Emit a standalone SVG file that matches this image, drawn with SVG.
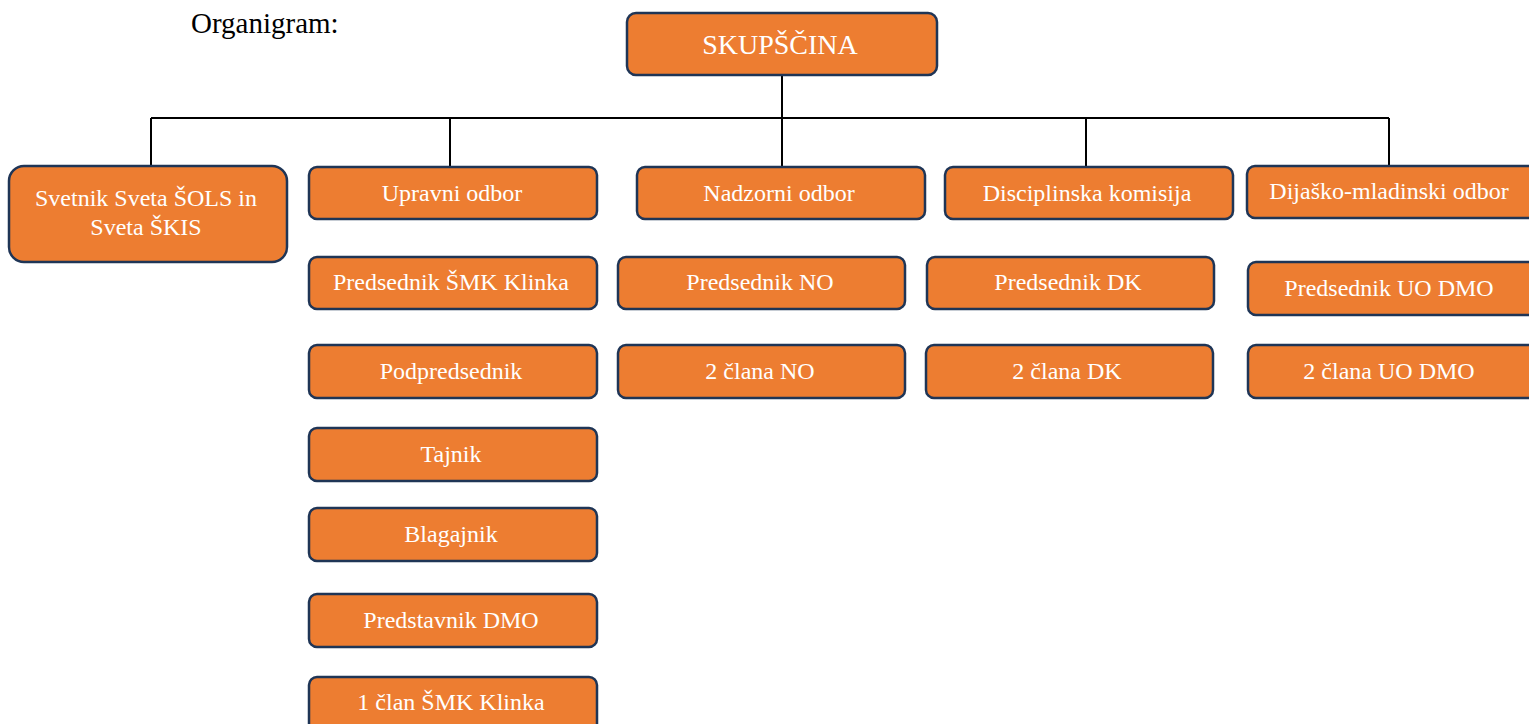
<svg xmlns="http://www.w3.org/2000/svg" width="1529" height="724" viewBox="0 0 1529 724">
<style>
.box{fill:#ED7D31;stroke:#1F3556;stroke-width:2.5}
.t{font-family:"Liberation Serif","Times New Roman",serif;font-size:24px;fill:#FFFFFF;text-anchor:middle}
.big{font-size:28px}
.conn{fill:none;stroke:#000000;stroke-width:2}
.title{font-family:"Liberation Serif","Times New Roman",serif;font-size:29px;fill:#000000}
</style>
<rect width="1529" height="724" fill="#FFFFFF"/>
<text class="title" x="191" y="33">Organigram:</text>
<g id="connectors">
<path class="conn" d="M782 75 V118 M151 118 H1389 M151 118 V166 M450 118 V166 M782 118 V166 M1086 118 V166 M1389 118 V166"/>
</g>
<g id="skupscina"><rect class="box" x="627" y="13" width="310" height="62" rx="9"/><text class="t big" x="780" y="54">SKUPŠČINA</text></g>
<g id="svetnik"><rect class="box" x="9" y="166" width="278" height="96" rx="15"/><text class="t" x="146" y="206">Svetnik Sveta ŠOLS in</text><text class="t" x="146" y="235">Sveta ŠKIS</text></g>
<g id="upravni"><rect class="box" x="309" y="167" width="288" height="52" rx="8"/><text class="t" x="452" y="201">Upravni odbor</text></g>
<g id="nadzorni"><rect class="box" x="637" y="167" width="288" height="52" rx="8"/><text class="t" x="779" y="201">Nadzorni odbor</text></g>
<g id="disciplinska"><rect class="box" x="945" y="167" width="288" height="52" rx="8"/><text class="t" x="1087" y="201">Disciplinska komisija</text></g>
<g id="dijasko"><rect class="box" x="1247" y="166" width="290" height="52" rx="8"/><text class="t" x="1389" y="199">Dijaško-mladinski odbor</text></g>
<g id="pred-smk"><rect class="box" x="309" y="257" width="288" height="52" rx="8"/><text class="t" x="451" y="290">Predsednik ŠMK Klinka</text></g>
<g id="podpredsednik"><rect class="box" x="309" y="345" width="288" height="53" rx="8"/><text class="t" x="451" y="379">Podpredsednik</text></g>
<g id="tajnik"><rect class="box" x="309" y="428" width="288" height="53" rx="8"/><text class="t" x="451" y="462">Tajnik</text></g>
<g id="blagajnik"><rect class="box" x="309" y="508" width="288" height="53" rx="8"/><text class="t" x="451" y="542">Blagajnik</text></g>
<g id="predstavnik"><rect class="box" x="309" y="594" width="288" height="53" rx="8"/><text class="t" x="451" y="628">Predstavnik DMO</text></g>
<g id="clan-smk"><rect class="box" x="309" y="677" width="288" height="60" rx="8"/><text class="t" x="451" y="710">1 član ŠMK Klinka</text></g>
<g id="pred-no"><rect class="box" x="618" y="257" width="287" height="52" rx="8"/><text class="t" x="760" y="290">Predsednik NO</text></g>
<g id="clana-no"><rect class="box" x="618" y="345" width="287" height="53" rx="8"/><text class="t" x="760" y="379">2 člana NO</text></g>
<g id="pred-dk"><rect class="box" x="927" y="257" width="287" height="52" rx="8"/><text class="t" x="1068" y="290">Predsednik DK</text></g>
<g id="clana-dk"><rect class="box" x="926" y="345" width="287" height="53" rx="8"/><text class="t" x="1067" y="379">2 člana DK</text></g>
<g id="pred-uo-dmo"><rect class="box" x="1248" y="262" width="290" height="53" rx="8"/><text class="t" x="1389" y="296">Predsednik UO DMO</text></g>
<g id="clana-uo-dmo"><rect class="box" x="1248" y="345" width="290" height="53" rx="8"/><text class="t" x="1389" y="379">2 člana UO DMO</text></g>
</svg>
